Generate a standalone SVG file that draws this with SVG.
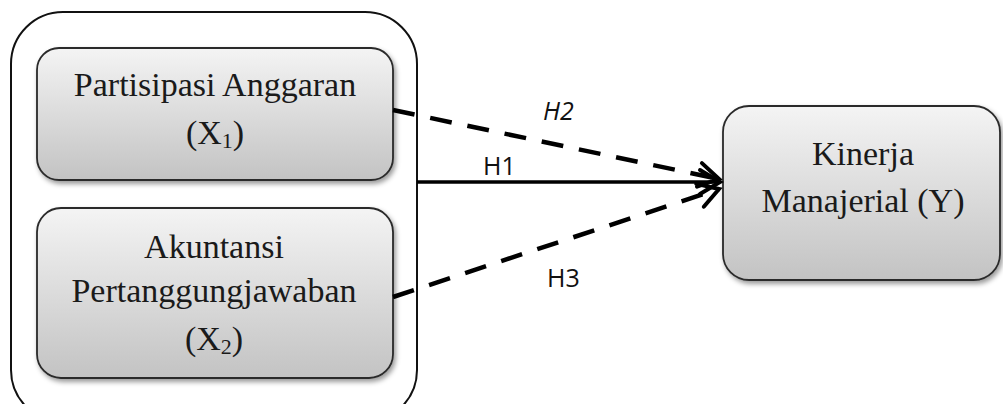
<svg xmlns="http://www.w3.org/2000/svg" width="1003" height="404" viewBox="0 0 1003 404">
<defs>
<linearGradient id="g" x1="0" y1="0" x2="0" y2="1">
<stop offset="0" stop-color="#f4f4f4"/>
<stop offset="1" stop-color="#c3c3c3"/>
</linearGradient>
<filter id="sh" x="-10%" y="-10%" width="125%" height="130%">
<feDropShadow dx="2" dy="3" stdDeviation="2.5" flood-color="#000" flood-opacity="0.4"/>
</filter>
<marker id="arr" markerUnits="userSpaceOnUse" markerWidth="30" markerHeight="30" refX="24" refY="15" orient="auto" viewBox="0 0 30 30">
<path d="M4,3 L24,15 L4,27" fill="none" stroke="#000" stroke-width="4" stroke-linejoin="miter" stroke-linecap="round"/>
</marker>
<style>
.box{fill:url(#g);stroke:#2a2a2a;stroke-width:1.8;filter:url(#sh)}
.t{font-family:"Liberation Serif","Times New Roman",serif;font-size:34px;fill:#1a1a1a;text-anchor:middle}
.h{font-family:"Open Sans","Liberation Sans",sans-serif;font-size:25px;fill:#111}
.solid{stroke:#000;stroke-width:3.5;fill:none}
.dash{stroke:#000;stroke-width:4.5;fill:none;stroke-dasharray:22 16}
</style>
</defs>
<rect width="1003" height="404" fill="#fff"/>
<g id="container">
<rect x="11" y="12" width="406" height="410" rx="52" fill="#fff" stroke="#111" stroke-width="2"/>
</g>
<g id="node-x1">
<rect class="box" x="37" y="48" width="356" height="132" rx="22"/>
<text class="t" x="215" y="96">Partisipasi Anggaran</text>
<text class="t" x="215" y="144">(X<tspan font-size="22" dy="4">1</tspan><tspan dy="-4">)</tspan></text>
</g>
<g id="node-x2">
<rect class="box" x="37" y="208" width="356" height="170" rx="24"/>
<text class="t" x="214" y="258">Akuntansi</text>
<text class="t" x="214" y="302">Pertanggungjawaban</text>
<text class="t" x="214" y="350">(X<tspan font-size="22" dy="4">2</tspan><tspan dy="-4">)</tspan></text>
</g>
<g id="node-y">
<rect class="box" x="723" y="106" width="277" height="174" rx="26"/>
<text class="t" x="863" y="165">Kinerja</text>
<text class="t" x="863" y="212">Manajerial (Y)</text>
</g>
<g id="connectors">
<line class="solid" x1="417" y1="182" x2="720" y2="182" marker-end="url(#arr)"/>
<line class="dash" x1="393" y1="110" x2="719" y2="179" marker-end="url(#arr)"/>
<line class="dash" x1="393" y1="297" x2="719" y2="189" marker-end="url(#arr)"/>
<text class="h" x="483" y="175">H1</text>
<text class="h" x="543" y="120" font-style="italic">H2</text>
<text class="h" x="547" y="287">H3</text>
</g>
</svg>
